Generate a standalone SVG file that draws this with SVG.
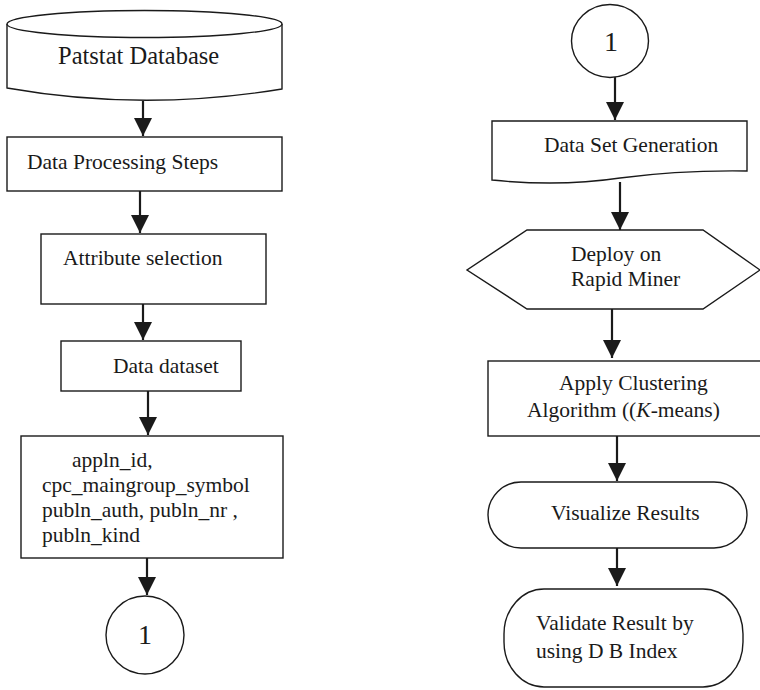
<svg xmlns="http://www.w3.org/2000/svg" width="760" height="690" viewBox="0 0 760 690">
<style>
.s{fill:#fff;stroke:#1a1a1a;stroke-width:1.4}
.t{font-family:"Liberation Serif","Times New Roman",serif;font-size:21.5px;fill:#1a1a1a}
.n{font-size:28px}
.c{stroke:#1a1a1a;stroke-width:2.2;fill:none}
</style>
<defs>
<marker id="ah" markerUnits="userSpaceOnUse" markerWidth="18" markerHeight="18" viewBox="0 0 16 16" refX="16" refY="8" orient="auto">
<path d="M0,0 L16,8 L0,16 Z" fill="#1a1a1a"/>
</marker>
</defs>
<rect width="760" height="690" fill="#fff"/>
<g id="connectors">
<line class="c" x1="143" y1="101" x2="143" y2="136" marker-end="url(#ah)"/>
<line class="c" x1="140" y1="191" x2="140" y2="233" marker-end="url(#ah)"/>
<line class="c" x1="143" y1="304" x2="143" y2="340" marker-end="url(#ah)"/>
<line class="c" x1="148" y1="391" x2="148" y2="435" marker-end="url(#ah)"/>
<line class="c" x1="147" y1="558" x2="147" y2="595" marker-end="url(#ah)"/>
<line class="c" x1="615" y1="77" x2="615" y2="120" marker-end="url(#ah)"/>
<line class="c" x1="620" y1="182" x2="620" y2="230" marker-end="url(#ah)"/>
<line class="c" x1="612" y1="309" x2="612" y2="358" marker-end="url(#ah)"/>
<line class="c" x1="617" y1="436" x2="617" y2="481" marker-end="url(#ah)"/>
<line class="c" x1="617" y1="548" x2="617" y2="586" marker-end="url(#ah)"/>
</g>
<g id="patstat">
<path class="s" d="M7,24 L7,88 Q143,112 282,89 L282,24"/>
<ellipse class="s" cx="144.5" cy="24" rx="137.5" ry="13.5"/>
<text class="t" x="58" y="64" style="font-size:24.5px">Patstat Database</text>
</g>
<g id="processing">
<rect class="s" x="7" y="137" width="275" height="54"/>
<text class="t" x="27" y="169">Data Processing Steps</text>
</g>
<g id="attribute">
<rect class="s" x="41" y="234" width="225" height="70"/>
<text class="t" x="63" y="265">Attribute selection</text>
</g>
<g id="dataset">
<rect class="s" x="61" y="341" width="180" height="50"/>
<text class="t" x="113" y="373">Data dataset</text>
</g>
<g id="fields">
<rect class="s" x="21" y="436" width="262" height="122"/>
<text class="t" x="72" y="467">appln_id,</text>
<text class="t" x="42" y="492">cpc_maingroup_symbol</text>
<text class="t" x="42" y="517">publn_auth, publn_nr ,</text>
<text class="t" x="42" y="542">publn_kind</text>
</g>
<g id="connector-out">
<circle class="s" cx="145" cy="635" r="39"/>
<text class="t n" x="145" y="644" text-anchor="middle">1</text>
</g>
<g id="connector-in">
<ellipse class="s" cx="610" cy="41" rx="38.5" ry="36.5"/>
<text class="t n" x="611" y="51" text-anchor="middle">1</text>
</g>
<g id="generation">
<path class="s" d="M492,121 L747,121 L747,171 Q680,170 620,178 Q560,187 492,180 Z"/>
<text class="t" x="544" y="152">Data Set Generation</text>
</g>
<g id="deploy">
<polygon class="s" points="527,230 703,230 760,270 703,309 527,309 467,270"/>
<text class="t" x="571" y="261">Deploy on</text>
<text class="t" x="571" y="286">Rapid Miner</text>
</g>
<g id="clustering">
<rect class="s" x="488" y="361" width="275" height="75"/>
<text class="t" x="559" y="390">Apply Clustering</text>
<text class="t" x="527" y="417">Algorithm ((<tspan font-style="italic">K</tspan>-means)</text>
</g>
<g id="visualize">
<rect class="s" x="488" y="482" width="259" height="66" rx="33" ry="33"/>
<text class="t" x="551" y="520">Visualize Results</text>
</g>
<g id="validate">
<rect class="s" x="504" y="589" width="239" height="98" rx="40" ry="45"/>
<text class="t" x="536" y="630">Validate Result by</text>
<text class="t" x="536" y="658">using D B Index</text>
</g>
</svg>
